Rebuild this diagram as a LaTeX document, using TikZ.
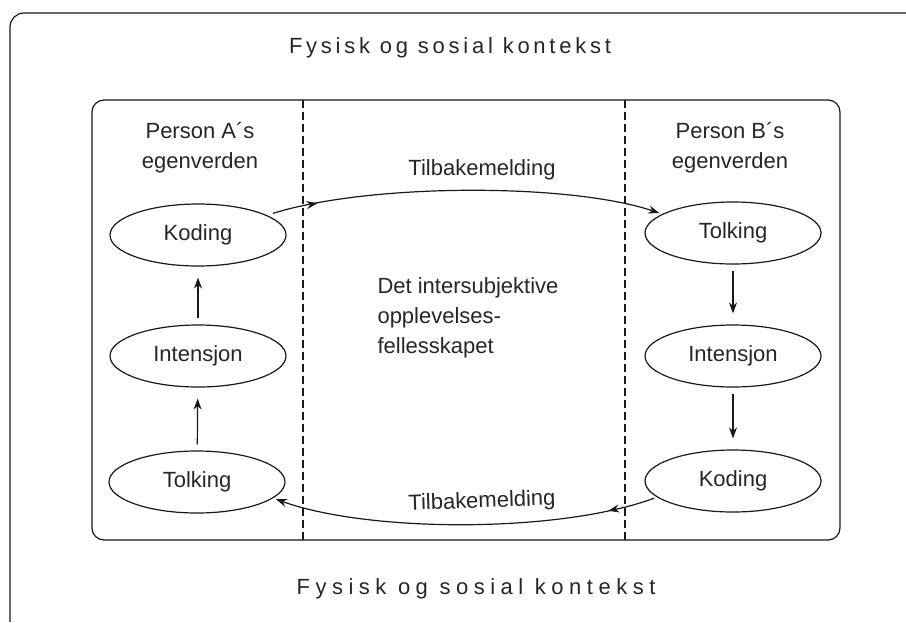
\documentclass[tikz,border=0pt]{standalone}
\usepackage{fontspec}
\setmainfont{Liberation Sans}
\usetikzlibrary{arrows.meta,decorations.markings,shapes.geometric}
\begin{document}
\begin{tikzpicture}[x=1pt,y=-1pt,
  line/.style={draw=black!90,line width=1.2pt},
  oval/.style={ellipse,line,minimum width=176pt,minimum height=62pt,inner sep=0pt},
  txt/.style={font=\fontsize{22}{30}\selectfont,text=black!85},
  arr/.style={line,-{Stealth[length=11pt,width=8pt]},shorten <=6pt,shorten >=11pt},
  curve/.style={line,-{Stealth[length=11pt,width=8pt]},postaction={decorate},
    decoration={markings,mark=at position 0.13 with {\arrow{Stealth[length=11pt,width=8pt]}}}},
  divider/.style={line,dash pattern=on 8pt off 4pt}
]
\useasboundingbox (0,0) rectangle (906,622);
% outer frame (cropped)
\draw[line,rounded corners=14pt] (906,13) -- (10,13) -- (10,622);
% inner box
\draw[line,rounded corners=12pt] (92,100) rectangle (840,540);
% dashed dividers
\draw[divider] (303,100) -- (303,540);
\draw[divider] (625,100) -- (625,540);
% titles
\node[txt] (top) at (450,48) {\addfontfeatures{LetterSpace=17}Fysisk og sosial kontekst};
\node[txt] (bot) at (476,589) {\addfontfeatures{LetterSpace=25}Fysisk og sosial kontekst};
% person labels
\node[txt,align=center] (pa) at (200,148) {Person A\textasciiacute s\\egenverden};
\node[txt,align=center] (pb) at (730,148) {Person B\textasciiacute s\\egenverden};
% ellipses
\node[oval,txt] (kA) at (198,235) {Koding};
\node[oval,txt] (iA) at (198,356) {Intensjon};
\node[oval,txt] (tA) at (197,482) {Tolking};
\node[oval,txt] (tB) at (733,233) {Tolking};
\node[oval,txt] (iB) at (733,356) {Intensjon};
\node[oval,txt] (kB) at (733,481) {Koding};
% vertical arrows
\draw[arr] (tA) -- (iA);
\draw[arr] (iA) -- (kA);
\draw[arr] (tB) -- (iB);
\draw[arr] (iB) -- (kB);
% center text
\node[txt,align=left,anchor=west] (mid) at (374,318) {Det intersubjektive\\opplevelses-\\fellesskapet};
% feedback curves
\draw[curve,shorten <=6pt,shorten >=3pt] (kA.16) .. controls (370,183) and (570,183) .. (tB.165);
\draw[curve,shorten <=3pt,shorten >=3pt] (kB.192) .. controls (560,533) and (370,533) .. (tA.348);
\node[txt] (fb1) at (482,170) {Tilbakemelding};
\node[txt,rotate=2] (fb2) at (482,502) {Tilbakemelding};
\end{tikzpicture}
\end{document}
